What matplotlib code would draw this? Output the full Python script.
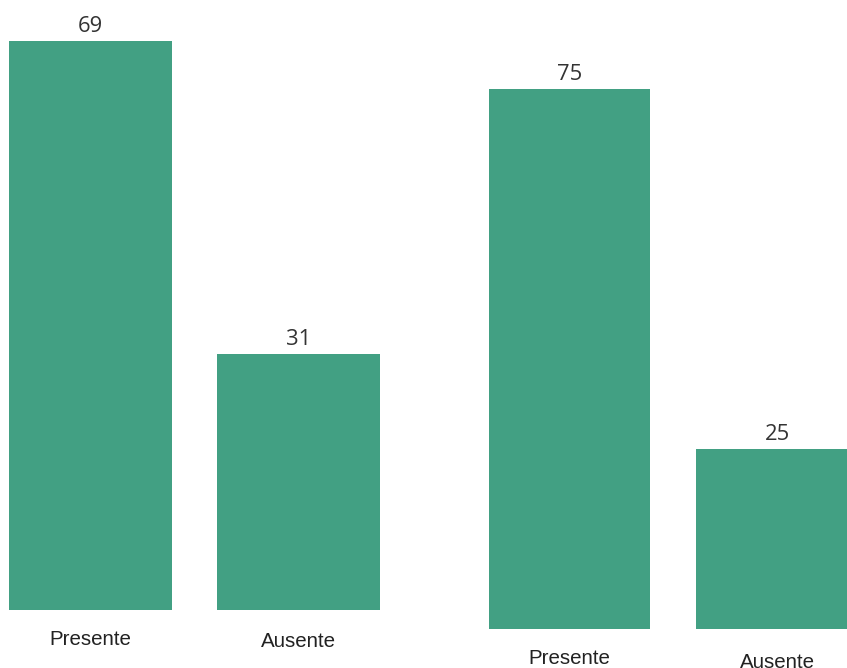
import matplotlib
matplotlib.use("Agg")
import matplotlib.pyplot as plt

categories = ["Presente", "Ausente"]
left_values = [69, 31]
right_values = [75, 25]

BAR_COLOR = "#42a083"
TEXT_COLOR = "#333333"
DPI = 72
W, H = 847, 668

fig = plt.figure(figsize=(W / DPI, H / DPI), dpi=DPI)
fig.patch.set_facecolor("white")


def panel(rect_px, xlim, ylim, values, label_drops):
    left, bottom, width, height = rect_px
    ax = fig.add_axes([left / W, bottom / H, width / W, height / H])
    x = list(range(len(values)))
    ax.bar(x, values, width=0.78, color=BAR_COLOR, edgecolor="none")
    ax.set_xlim(*xlim)
    ax.set_ylim(*ylim)
    ax.axis("off")
    for xi, v in zip(x, values):
        ax.annotate(str(v), xy=(xi, v), xytext=(0, 8.7), textcoords="offset points",
                    ha="center", va="baseline", fontsize=22,
                    family=["Open Sans", "DejaVu Sans"], color=TEXT_COLOR,
                    annotation_clip=False)
    for xi, cat, drop in zip(x, categories, label_drops):
        ax.annotate(cat, xy=(xi, 0), xytext=(0, -drop), textcoords="offset points",
                    ha="center", va="baseline", fontsize=20.5,
                    family=["Liberation Sans", "DejaVu Sans"], color="#222222",
                    annotation_clip=False)
    return ax


# left panel: baseline 609.5 px from top, 8.24 px per unit
left_scale = 568.5 / 69
panel((0, H - 609.5, 416, 74 * left_scale), (-0.435, 1.565), (0, 74),
      left_values, (35.5, 37.8))

# right panel: baseline 629.3 px from top, 7.2 px per unit
right_scale = 540.3 / 75
panel((440, H - 629.3, 407, 84 * right_scale), (-0.624, 1.337), (0, 84),
      right_values, (34.7, 38.5))

fig.savefig("out.png", dpi=DPI, facecolor="white")
